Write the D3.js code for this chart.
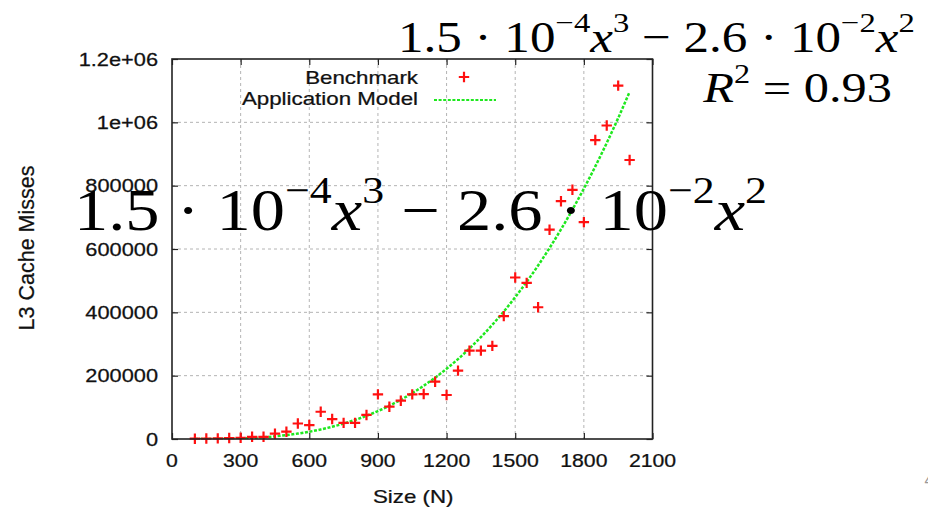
<!DOCTYPE html>
<html><head><meta charset="utf-8">
<script src="https://cdn.jsdelivr.net/npm/d3@7"></script>
<style>body{margin:0;background:#fff;} svg{display:block;}</style>
</head><body>
<svg id="c" width="928" height="511"></svg>
<script>
// ---------------- data ----------------
const sizes = [100,150,200,250,300,350,400,450,500,550,600,650,700,750,800,850,900,950,1000,1050,
               1100,1150,1200,1250,1300,1350,1400,1450,1500,1550,1600,1650,1700,1750,1800,1850,1900,1950,2000];
const benchmark = [1000,1500,2000,3000,4000,7000,7000,17000,23000,49000,44000,86000,63000,51000,51000,76000,141000,102000,121000,141000,
                   142000,181000,139000,216000,279000,279000,294000,388000,510000,493000,416000,661000,751000,787000,685000,944000,990000,1116000,881000];
const model = [-110,-79,160,719,1710,3246,5440,8404,12250,17091,23040,30209,38710,48656,60160,73334,88290,105141,124000,144979,
               168190,193746,221760,252344,285610,321671,360640,402629,447750,496116,547840,603034,661810,724281,790560,860759,934990,1013366,1096000];
const xTicks = [0,300,600,900,1200,1500,1800,2100];
const xTickLabels = ["0","300","600","900","1200","1500","1800","2100"];
const yTicks = [0,200000,400000,600000,800000,1000000,1200000];
const yTickLabels = ["0","200000","400000","600000","800000","1e+06","1.2e+06"];
const seriesNames = ["Benchmark","Application Model"];
const xTitle = "Size (N)";
const yTitle = "L3 Cache Misses";

// ---------------- layout ----------------
const L = 172, R = 652.5, T = 59, B = 439;
const sans = "'Liberation Sans', Arial, Helvetica, sans-serif";
const svg = d3.select("#c");

const x = d3.scaleLinear().domain([0,2100]).range([L,R]);
const y = d3.scaleLinear().domain([0,1200000]).range([B,T]);

function sText(g, px, py, str, anchor, size, sx) {
  return g.append("text")
    .attr("transform", `translate(${px},${py}) scale(${sx},1)`)
    .attr("text-anchor", anchor)
    .attr("font-family", sans).attr("font-size", size).attr("fill", "#111")
    .attr("stroke", "#111").attr("stroke-width", 0.25)
    .text(str);
}

// grid
const grid = svg.append("g").attr("stroke", "#b4b4b4").attr("stroke-width", 1).attr("stroke-dasharray", "3,3");
xTicks.slice(1, -1).forEach(v => grid.append("line").attr("x1", x(v)).attr("x2", x(v)).attr("y1", T).attr("y2", B));
yTicks.slice(1, -1).forEach(v => grid.append("line").attr("x1", L).attr("x2", R).attr("y1", y(v)).attr("y2", y(v)));

// axes via d3 axis generators (ticks inward, mirrored)
function styleAxis(g) {
  g.select(".domain").remove();
  g.selectAll(".tick line").attr("stroke", "#222").attr("stroke-width", 1.2);
  g.selectAll(".tick text").remove();
}
svg.append("g").attr("transform", `translate(0,${B})`)
  .call(d3.axisBottom(x).tickValues(xTicks).tickSize(-6)).call(styleAxis);
svg.append("g").attr("transform", `translate(0,${T})`)
  .call(d3.axisTop(x).tickValues(xTicks).tickSize(-6)).call(styleAxis);
svg.append("g").attr("transform", `translate(${L},0)`)
  .call(d3.axisLeft(y).tickValues(yTicks).tickSize(-6)).call(styleAxis);
svg.append("g").attr("transform", `translate(${R},0)`)
  .call(d3.axisRight(y).tickValues(yTicks).tickSize(-6)).call(styleAxis);

// tick labels
const lab = svg.append("g");
xTicks.forEach((v, i) => sText(lab, x(v), 467, xTickLabels[i], "middle", 18, 1.18));
yTicks.forEach((v, i) => sText(lab, 158, y(v) + 6.5, yTickLabels[i], "end", 18, 1.21));

// axis titles
sText(svg, (L + R) / 2 + 1, 503, xTitle, "middle", 18, 1.24);
svg.append("text").attr("transform", `translate(34,${(T + B) / 2 - 1}) rotate(-90)`)
  .attr("text-anchor", "middle").attr("font-family", sans).attr("font-size", 21.5).attr("fill", "#111")
  .attr("stroke", "#111").attr("stroke-width", 0.25)
  .text(yTitle);

// clip
svg.append("clipPath").attr("id", "clip").append("rect").attr("x", L).attr("y", T).attr("width", R - L).attr("height", B - T);

// model curve
const green = "#1ee81e";
const line = d3.line().x((d, i) => x(sizes[i])).y(d => y(d)).curve(d3.curveMonotoneX);
svg.append("path").attr("clip-path", "url(#clip)").datum(model)
  .attr("d", line).attr("fill", "none").attr("stroke", green).attr("stroke-width", 2.5)
  .attr("stroke-dasharray", "3,1.6");

// benchmark points
const plus = (cx, cy, r) => `M${cx - r},${cy}H${cx + r}M${cx},${cy - r}V${cy + r}`;
svg.append("g").selectAll("path").data(benchmark).join("path")
  .attr("d", (d, i) => plus(x(sizes[i]), y(d), 5.2))
  .attr("stroke", "#ff1010").attr("stroke-width", 2.2).attr("fill", "none");

// legend
sText(svg, 418, 84, seriesNames[0], "end", 18, 1.24);
sText(svg, 418, 105, seriesNames[1], "end", 18, 1.24);
svg.append("path").attr("d", plus(464, 77, 5.2)).attr("stroke", "#ff1010").attr("stroke-width", 2.2).attr("fill", "none");
svg.append("line").attr("x1", 434).attr("x2", 496).attr("y1", 100).attr("y2", 100)
  .attr("stroke", green).attr("stroke-width", 2).attr("stroke-dasharray", "3,1.6");

// frame
svg.append("rect").attr("x", L).attr("y", T).attr("width", R - L).attr("height", B - T)
  .attr("fill", "none").attr("stroke", "#222").attr("stroke-width", 1.6);

// ---------------- formulas ----------------
const serif = "'Liberation Serif', 'Times New Roman', serif";
const polyParts = [{t:"1.5 · 10"},{t:"−4",sup:true},{t:"x",it:true},{t:"3",sup:true},
                   {t:" − 2.6 · 10"},{t:"−2",sup:true},{t:"x",it:true},{t:"2",sup:true}];
const r2Parts = [{t:"R",it:true},{t:"2",sup:true},{t:" = 0.93"}];
function formula(px, py, size, targetW, parts) {
  const t = svg.append("text").attr("font-family", serif).attr("font-size", size).attr("fill", "#000");
  let prevSup = false;
  parts.forEach(p => {
    const ts = t.append("tspan").text(p.t);
    if (p.it) ts.attr("font-style", "italic");
    if (p.sup) {
      ts.attr("font-size", 0.64 * size);
      if (!prevSup) ts.attr("dy", -0.45 * size);
    } else if (prevSup) ts.attr("dy", 0.45 * size);
    prevSup = !!p.sup;
  });
  const bb = t.node().getBBox();
  const s = targetW / bb.width;
  t.attr("transform", `translate(${px - bb.x * s},${py}) scale(${s},1)`);
}
formula(398, 52, 44, 517, polyParts);
formula(702, 102, 42, 190, r2Parts);
formula(74, 230, 59, 693, polyParts);

// clipped glyph at right edge
svg.append("text").attr("x", 924.5).attr("y", 486).attr("font-family", sans).attr("font-size", 16).attr("fill", "#999").text("4");
</script>
</body></html>
